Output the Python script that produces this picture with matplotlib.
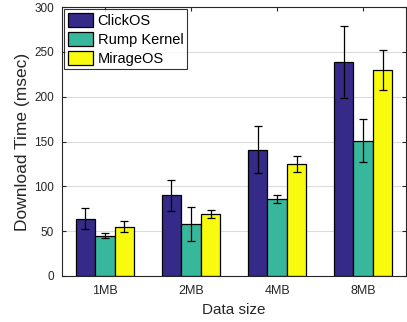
import matplotlib
matplotlib.use('Agg')
import matplotlib.pyplot as plt
import numpy as np

plt.rcParams['font.family'] = ['Liberation Sans', 'DejaVu Sans']

sizes = ['1MB', '2MB', '4MB', '8MB']
series = ['ClickOS', 'Rump Kernel', 'MirageOS']
clickos = [64, 90, 141, 239]
clickos_err = [12, 17, 26, 40]
rump = [45, 58, 86, 151]
rump_err = [2.5, 19, 4.5, 24]
mirage = [55, 69, 125, 230]
mirage_err = [6.5, 4.5, 9, 22]

colors = ['#352a87', '#37b89d', '#f9fb0e']

fig = plt.figure(figsize=(4.07, 3.22), dpi=100)
ax = fig.add_axes([0.152, 0.143, 0.846, 0.835])

x = np.arange(1, len(sizes) + 1)
w = 0.227
vals = [clickos, rump, mirage]
errs = [clickos_err, rump_err, mirage_err]
for i in range(3):
    pos = x + (i - 1) * w
    ax.bar(pos, vals[i], w, color=colors[i], edgecolor='black', linewidth=0.9,
           label=series[i], zorder=2)
    ax.errorbar(pos, vals[i], yerr=errs[i], fmt='none', ecolor='black',
                elinewidth=0.9, capsize=3, capthick=0.9, zorder=3)

ax.set_xlim(0.5, 4.5)
ax.set_ylim(0, 300)
ax.set_xticks(x)
ax.set_xticklabels(sizes)
ax.set_yticks(np.arange(0, 301, 50))
ax.yaxis.grid(True, color='#dcdcdc', linewidth=0.8, zorder=0)
ax.set_axisbelow(True)
ax.tick_params(direction='in', top=True, right=True,
               colors='#262626', length=3)
ax.tick_params(axis='x', labelsize=9, pad=6.5)
ax.tick_params(axis='y', labelsize=8.5, pad=5.5)
for s in ax.spines.values():
    s.set_color('#262626')
    s.set_linewidth(0.8)

ax.set_xlabel('Data size', fontsize=11, color='#262626', labelpad=4)
ax.set_ylabel('Download Time (msec)', fontsize=12.5, color='#262626', labelpad=3)

leg = ax.legend(loc='upper left', fontsize=10.5, frameon=True, fancybox=False,
                borderpad=0.25, handlelength=1.75, handleheight=1.15,
                handletextpad=0.3, labelspacing=0.25,
                borderaxespad=0.15)
leg.get_frame().set_edgecolor('black')
leg.get_frame().set_linewidth(0.8)

fig.savefig('out.png', dpi=100)
